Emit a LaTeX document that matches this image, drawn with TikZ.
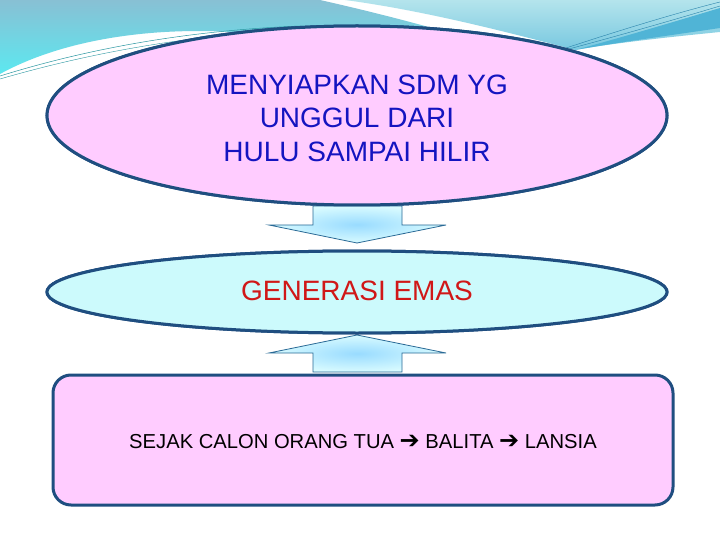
\documentclass[tikz,border=0pt]{standalone}
\usepackage{fontspec}
\setmainfont{Liberation Sans}
\newfontfamily\arrowfont{DejaVu Sans}
\usetikzlibrary{shapes.geometric,positioning}
\definecolor{edgeblue}{HTML}{1F4E80}
\definecolor{pinkfill}{HTML}{FFCCFF}
\definecolor{cyanfill}{HTML}{CCFAFC}
\definecolor{textblue}{HTML}{1414C0}
\definecolor{textred}{HTML}{D01818}
\definecolor{arrowline}{HTML}{2A6A96}
\definecolor{swooshtop}{RGB}{136,192,212}
\definecolor{swooshlow}{RGB}{92,232,240}
\definecolor{sweeptop}{RGB}{180,228,236}
\definecolor{sweeplow}{RGB}{120,200,224}
\definecolor{sweepband}{RGB}{80,180,214}
\definecolor{thinteal}{RGB}{40,150,160}
\definecolor{thinblue}{RGB}{40,130,170}
\begin{document}
\begin{tikzpicture}[x=1pt, y=-1pt,
    bubble/.style={ellipse, draw=edgeblue, line width=3pt, minimum width=620pt, inner sep=0pt},
    basebox/.style={rectangle, rounded corners=18pt, draw=edgeblue, line width=3pt, fill=pinkfill,
        minimum width=620pt, minimum height=130pt, inner sep=0pt},
    blockarrow/.style={draw=arrowline, line width=0.8pt, inner color=arrowcenter, outer color=arrowouter}]
        \colorlet{arrowcenter}{blue!35!cyan!40}
        \colorlet{arrowouter}{blue!10!cyan!15}
        \useasboundingbox (0, 0) rectangle (720, 540);
        \fill[white] (0, 0) rectangle (720, 540);

        % Draw the swooshes at the top
        \shade[top color=swooshtop, bottom color=swooshlow]
            (0, 0) -- (320, 0) .. controls (400, 18) and (480, 40) .. (540, 62)
            -- (300, 40) .. controls (200, 22) and (80, 30) .. (0, 74) -- cycle;
        \shade[top color=sweeptop, bottom color=sweeplow]
            (345, 0) -- (720, 0) -- (720, 32) .. controls (680, 36) and (620, 42) .. (575, 50)
            .. controls (500, 30) and (420, 10) .. (345, 0) -- cycle;
        \fill[sweepband]
            (575, 50) .. controls (620, 38) and (680, 20) .. (720, 8) -- (720, 28)
            .. controls (680, 34) and (620, 42) .. (575, 50) -- cycle;
        \draw[thinteal, line width=0.5pt] (0, 76) .. controls (100, 45) and (200, 30) .. (300, 26);
        \draw[thinteal, line width=0.4pt] (0, 79) .. controls (100, 50) and (200, 34) .. (300, 30);
        \draw[thinblue, line width=0.4pt] (560, 50) .. controls (620, 30) and (680, 12) .. (720, 2);
        \draw[thinblue, line width=0.4pt] (565, 50) .. controls (625, 34) and (680, 18) .. (720, 6);

        % Draw the three blocks
        \node[bubble, fill=pinkfill, minimum height=179pt] (goal) at (357, 115.5) {};
        \node[bubble, fill=cyanfill, minimum height=82pt, below=43pt of goal] (emas) {};
        \node[basebox] (span) at (363, 440) {};

        % Add the block arrows between them
        \shade[blockarrow] (313, 206) -- (402, 206) -- (402, 225) -- (446, 225)
            -- (357, 243) -- (269, 225) -- (313, 225) -- cycle;
        \shade[blockarrow] (357, 335) -- (446, 353) -- (402, 353) -- (402, 372)
            -- (313, 372) -- (313, 353) -- (269, 353) -- cycle;

        % Redraw the blocks on top of the arrows
        \node[bubble, fill=pinkfill, minimum height=179pt] at (goal) {};
        \node[bubble, fill=cyanfill, minimum height=82pt] at (emas) {};

        % Label the blocks
        \node[text=textblue, font=\fontsize{28}{33.5}\selectfont, align=center] (goaltext) at (357, 118)
            {MENYIAPKAN SDM YG\\UNGGUL DARI\\HULU SAMPAI HILIR};
        \node[text=textred, font=\fontsize{28}{33.5}\selectfont] (emastext) at (357, 291) {GENERASI EMAS};
        \node[font=\fontsize{20.2}{24}\selectfont] (spantext) at (363, 442)
            {SEJAK CALON ORANG TUA {\arrowfont\fontsize{24}{24}\selectfont ➔} BALITA
             {\arrowfont\fontsize{24}{24}\selectfont ➔} LANSIA};
    \end{tikzpicture}
\end{document}
